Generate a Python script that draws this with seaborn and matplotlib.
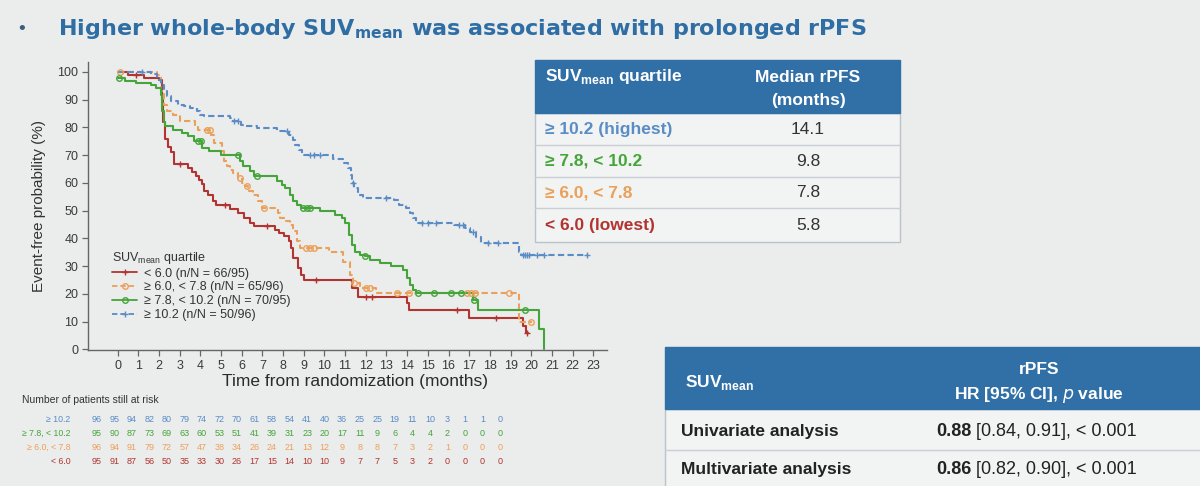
import matplotlib
matplotlib.use("Agg")
import matplotlib.pyplot as plt
import numpy as np
import pandas as pd
import seaborn as sns
from matplotlib.lines import Line2D
from matplotlib.patches import Rectangle


GROUPS = ["< 6.0", "≥ 6.0, < 7.8", "≥ 7.8, < 10.2", "≥ 10.2"]
LEGEND_LABELS = ["< 6.0 (n/N = 66/95)", "≥ 6.0, < 7.8 (n/N = 65/96)", "≥ 7.8, < 10.2 (n/N = 70/95)", "≥ 10.2 (n/N = 50/96)"]
COLORS = {"< 6.0": "#b23430", "≥ 6.0, < 7.8": "#eba05a", "≥ 7.8, < 10.2": "#45a53a", "≥ 10.2": "#5a8cc6"}
DASHES = {"< 6.0": "", "≥ 6.0, < 7.8": (3, 1.6), "≥ 7.8, < 10.2": "", "≥ 10.2": (3, 1.6)}
MARKERS = {"< 6.0": "+", "≥ 6.0, < 7.8": "o", "≥ 7.8, < 10.2": "o", "≥ 10.2": "+"}

# Kaplan-Meier step points (month, event-free %)
red_t = [0, 0.5, 1.3, 2.0, 2.15, 2.2, 2.3, 2.45, 2.6, 2.75, 3.4, 3.6, 3.8, 3.95, 4.1, 4.2, 4.35, 4.6, 4.75,
         5.45, 5.8, 6.1, 6.4, 6.6, 7.6, 7.8, 8.05, 8.3, 8.4, 8.5, 8.7, 8.85, 9.0, 11.35, 11.6, 14.0, 14.1,
         17.0, 19.6, 19.75, 19.85]
red_s = [100, 99, 98, 97, 90, 82, 76, 73, 71, 67, 65.5, 64, 62.5, 61, 59.5, 57, 55.5, 53.5, 52,
         50.5, 49, 47.5, 45.6, 44.4, 43.2, 42, 40.8, 39, 36.6, 33, 29.4, 27, 25.2, 22, 19, 16.6, 14.2,
         11.2, 8.4, 5.8, 5.8]
red_censor = [0.9, 3.0, 5.2, 7.2, 9.6, 12.0, 12.3, 16.4, 18.3, 19.8]

orange_t = [0, 1.9, 2.1, 2.25, 2.4, 2.7, 3.0, 3.75, 3.9, 4.5, 4.65, 5.05, 5.15, 5.3, 5.45, 5.6, 5.8, 6.0,
            6.15, 6.3, 6.55, 6.8, 7.0, 7.75, 7.85, 8.15, 8.35, 8.5, 8.65, 8.8, 10.2, 10.9, 11.25, 11.4, 11.7,
            12.5, 19.4, 20.05]
orange_s = [100, 99, 93, 88, 86, 84.6, 82.2, 80.4, 79, 77.4, 74.4, 71.4, 67.8, 66, 64.8, 63.6, 61.8, 60,
            58.8, 57, 55.8, 53.4, 51, 49.2, 47.4, 46.2, 45, 42.6, 39, 36.6, 35, 31.6, 27, 24, 22,
            20.4, 10, 10]
orange_censor = [0.1, 4.3, 4.45, 5.9, 6.25, 7.1, 9.1, 9.3, 9.5, 11.45, 12.0, 12.2, 13.5, 14.1, 16.9, 17.1,
                 17.3, 18.9, 20.0]

green_t = [0, 0.35, 0.9, 1.6, 1.85, 2.1, 2.17, 2.23, 2.3, 2.7, 3.1, 3.4, 3.7, 4.1, 4.4, 5.0, 5.9, 6.05, 6.4,
           6.6, 7.7, 7.95, 8.1, 8.35, 8.5, 8.65, 8.85, 9.8, 10.5, 10.85, 11.0, 11.2, 11.35, 11.5, 11.7, 11.95,
           12.2, 12.7, 13.2, 13.8, 14.0, 14.15, 14.3, 14.45, 17.2, 17.4, 20.35, 20.6]
green_s = [98, 96.6, 96, 95.4, 94.2, 91.8, 85.8, 82, 80.4, 79.2, 78, 76.8, 75, 72.6, 71.4, 70.2, 67.8, 66,
           64.2, 62.4, 60.6, 59.4, 58.2, 55.8, 53.4, 52.2, 51, 49.8, 48.6, 47.3, 45.5, 41.3, 37.7, 35.3, 34.1,
           33.5, 32.3, 31, 29.9, 28.6, 25.6, 23.2, 21.4, 20.3, 17.9, 14.2, 7.3, 0]
green_censor = [0.05, 3.9, 4.05, 5.8, 6.75, 8.95, 9.15, 9.3, 11.95, 14.5, 15.3, 16.1, 16.6, 17.25, 19.7]

blue_t = [0, 1.6, 1.9, 2.1, 2.25, 2.4, 2.6, 2.9, 3.2, 3.5, 3.85, 4.0, 4.2, 5.45, 5.6, 5.95, 6.1, 6.75, 7.7,
          8.3, 8.5, 8.6, 8.75, 8.9, 10.4, 10.9, 11.15, 11.28, 11.35, 11.45, 11.6, 11.85, 13.35, 13.6, 13.95,
          14.15, 14.3, 14.45, 16.25, 16.8, 17.05, 17.35, 17.55, 19.4, 19.5, 22.7]
blue_s = [100, 99.2, 97.2, 95.4, 93, 91.2, 89.4, 88.2, 87.6, 87, 85.8, 84.6, 84, 83.4, 82.2, 81, 80.4, 79.8,
          78.6, 77.4, 75.6, 73.8, 72, 70.2, 68.8, 67.1, 65.3, 62.9, 59.9, 58.1, 55.7, 54.5, 53.9, 52.1, 50.9,
          49.1, 47.3, 45.5, 44.9, 43.7, 42.5, 40.7, 38.3, 35.3, 34.1, 34.1]
blue_censor = [1.2, 5.65, 5.8, 8.2, 9.3, 9.5, 9.8, 11.4, 13.0, 14.7, 15.0, 15.4, 16.5, 16.7, 17.2, 17.9,
               18.4, 19.6, 19.7, 19.8, 19.9, 20.3, 20.6, 22.7]

CURVES = {
    "< 6.0": (red_t, red_s, red_censor),
    "≥ 6.0, < 7.8": (orange_t, orange_s, orange_censor),
    "≥ 7.8, < 10.2": (green_t, green_s, green_censor),
    "≥ 10.2": (blue_t, blue_s, blue_censor),
}

# numbers at risk, months 0..23
risk_rows = ["≥ 10.2", "≥ 7.8, < 10.2", "≥ 6.0, < 7.8", "< 6.0"]
risk_high = [96, 95, 94, 82, 80, 79, 74, 72, 70, 61, 58, 54, 41, 40, 36, 25, 25, 19, 11, 10, 3, 1, 1, 0]
risk_upper_mid = [95, 90, 87, 73, 69, 63, 60, 53, 51, 41, 39, 31, 23, 20, 17, 11, 9, 6, 4, 4, 2, 0, 0, 0]
risk_lower_mid = [96, 94, 91, 79, 72, 57, 47, 38, 34, 26, 24, 21, 13, 12, 9, 8, 8, 7, 3, 2, 1, 0, 0, 0]
risk_low = [95, 91, 87, 56, 50, 35, 33, 30, 26, 17, 15, 14, 10, 10, 9, 7, 7, 5, 3, 2, 0, 0, 0, 0]
RISK = [risk_high, risk_upper_mid, risk_lower_mid, risk_low]

# median table
median_rows = ["≥ 10.2 (highest)", "≥ 7.8, < 10.2", "≥ 6.0, < 7.8", "< 6.0 (lowest)"]
median_groups = ["≥ 10.2", "≥ 7.8, < 10.2", "≥ 6.0, < 7.8", "< 6.0"]
median_values = ["14.1", "9.8", "7.8", "5.8"]

# hazard ratio table
hr_rows = ["Univariate analysis", "Multivariate analysis"]
hr_values = ["0.88", "0.86"]
hr_ci = [" [0.84, 0.91], < 0.001", " [0.82, 0.90], < 0.001"]

BG = "#ebecec"
HEADER = "#3170a6"
TITLE = "#2f6ea4"

sns.set_theme(style="ticks")
plt.rcParams["font.family"] = ["Liberation Sans", "DejaVu Sans"]
plt.rcParams["mathtext.fontset"] = "custom"
plt.rcParams["mathtext.rm"] = "Liberation Sans"

frames = []
for group, (t, s, _) in CURVES.items():
    frames.append(pd.DataFrame({"month": t, "survival": s, "group": group}))
km = pd.concat(frames, ignore_index=True)

fig = plt.figure(figsize=(12, 4.86), dpi=100, facecolor=BG)
ax = fig.add_axes([88 / 1200, 136 / 486, 519 / 1200, 288 / 486])
ax.set_facecolor(BG)
sns.lineplot(data=km, x="month", y="survival", hue="group", style="group", palette=COLORS,
             dashes=DASHES, hue_order=GROUPS, style_order=GROUPS, drawstyle="steps-post",
             estimator=None, sort=False, linewidth=1.5, legend=False, ax=ax)

for group, (t, s, censor) in CURVES.items():
    idx = np.searchsorted(np.array(t), np.array(censor), side="right") - 1
    cy = np.array(s)[idx]
    ax.plot(censor, cy, ls="none", marker=MARKERS[group], ms=5 if MARKERS[group] == "+" else 4,
            mfc="none", mec=COLORS[group], mew=1.0)

ax.set_xlim(-1.43, 23.66)
ax.set_ylim(-0.2, 103.6)
ax.set_xticks(range(0, 24))
ax.set_yticks(range(0, 101, 10))
sns.despine(ax=ax)
for side in ("left", "bottom"):
    ax.spines[side].set_color("#666666")
    ax.spines[side].set_linewidth(1.0)
ax.tick_params(axis="both", direction="out", length=4, width=0.9, color="#666666",
               labelsize=9, labelcolor="#3a3a3a", pad=3)
ax.set_xlabel("Time from randomization (months)", fontsize=12.5, color="#2b2b2b")
ax.xaxis.set_label_coords((355 - 88) / 519, -0.085)
ax.set_ylabel("Event-free probability (%)", fontsize=11, color="#333333")
ax.yaxis.set_label_coords(-0.08, 0.5)

handles = []
for g in GROUPS:
    h = Line2D([0], [0], color=COLORS[g], marker=MARKERS[g], ms=5 if MARKERS[g] == "+" else 4,
               mfc="none", mec=COLORS[g], lw=1.3)
    if DASHES[g]:
        h.set_dashes(DASHES[g])
    handles.append(h)
leg = ax.legend(handles, LEGEND_LABELS, title="SUV$_{\\mathregular{mean}}$ quartile", loc="upper left",
                bbox_to_anchor=(0.035, 0.37), frameon=False, fontsize=9, title_fontsize=9,
                numpoints=1, handlelength=2.0, handletextpad=0.5, labelspacing=0.15, borderpad=0,
                alignment="left")
for text in leg.get_texts():
    text.set_color("#333333")
leg.get_title().set_color("#333333")

# overlay in pixel coordinates for title and tables
ov = fig.add_axes([0, 0, 1, 1], zorder=5)
ov.set_xlim(0, 1200)
ov.set_ylim(486, 0)
ov.axis("off")
ov.patch.set_alpha(0)

ov.text(22, 30, "•", fontsize=14, color="#3a5f80", va="center", ha="center")
ov.text(58, 29, "Higher whole-body SUV$_{\\mathregular{mean}}$ was associated with prolonged rPFS",
        fontsize=16, fontweight="bold", color=TITLE, va="center", ha="left", family=["DejaVu Sans"])

# median rPFS table
FS = 12.5
ov.add_patch(Rectangle((535, 113), 365, 129, fc="#f2f3f3", ec="#b9c3cc", lw=1))
ov.add_patch(Rectangle((535, 60), 365, 53, fc=HEADER, ec=HEADER, lw=1))
ov.text(545, 77, "SUV$_{\\mathregular{mean}}$ quartile", fontsize=FS, fontweight="bold", color="white", va="center")
ov.text(808, 77, "Median rPFS", fontsize=FS, fontweight="bold", color="white", va="center", ha="center")
ov.text(808, 100, "(months)", fontsize=FS, fontweight="bold", color="white", va="center", ha="center")
row_tops = [113, 145, 177, 208, 242]
for i, (label, grp, val) in enumerate(zip(median_rows, median_groups, median_values)):
    yc = (row_tops[i] + row_tops[i + 1]) / 2
    if i > 0:
        ov.plot([535, 900], [row_tops[i], row_tops[i]], color="#c9cfd5", lw=1)
    ov.text(545, yc, label, fontsize=FS, fontweight="bold", color=COLORS[grp], va="center")
    ov.text(808, yc, val, fontsize=FS, color="#333333", va="center", ha="center")

# hazard ratio table
ov.add_patch(Rectangle((665, 409), 540, 80, fc="#f2f3f3", ec="#b9c3cc", lw=1))
ov.add_patch(Rectangle((665, 347), 540, 62, fc=HEADER, ec=HEADER, lw=1))
ov.text(685, 382, "SUV$_{\\mathregular{mean}}$", fontsize=FS, fontweight="bold", color="white", va="center")
ov.text(1039, 369, "rPFS", fontsize=FS, fontweight="bold", color="white", va="center", ha="center")
ov.text(1039, 395, "HR [95% CI], $\\mathit{p}$ value", fontsize=FS, fontweight="bold", color="white",
        va="center", ha="center")
ov.plot([665, 1200], [450, 450], color="#c9cfd5", lw=1)
for label, hr, ci, yc in zip(hr_rows, hr_values, hr_ci, [431, 469]):
    ov.text(681, yc, label, fontsize=FS, fontweight="bold", color="#222222", va="center")
    t = ov.text(936, yc, hr, fontsize=FS + 0.5, fontweight="bold", color="#222222", va="center")
    ov.annotate(ci, xy=(1, 0.5), xycoords=t, va="center", fontsize=FS + 0.5, color="#222222")

# numbers at risk
ov.text(22, 400, "Number of patients still at risk", fontsize=7.5, color="#333333", va="center")
risk_ax = fig.add_axes([(96.7 - 8.8) / 1200, (486 - 468) / 486, (403.3 + 17.6) / 1200, 55 / 486])
risk_ax.set_xlim(-0.5, 23.5)
risk_ax.set_ylim(3.5, -0.5)
risk_ax.axis("off")
row_groups = ["≥ 10.2", "≥ 7.8, < 10.2", "≥ 6.0, < 7.8", "< 6.0"]
for r, (label, grp, counts) in enumerate(zip(risk_rows, row_groups, RISK)):
    risk_ax.text(-1.5, r, label, fontsize=6.3, color=COLORS[grp], ha="right", va="center")
    for m, n in enumerate(counts):
        risk_ax.text(m, r, str(n), fontsize=6.5, color=COLORS[grp], ha="center", va="center")

fig.savefig("out.png", dpi=100, facecolor=BG)
